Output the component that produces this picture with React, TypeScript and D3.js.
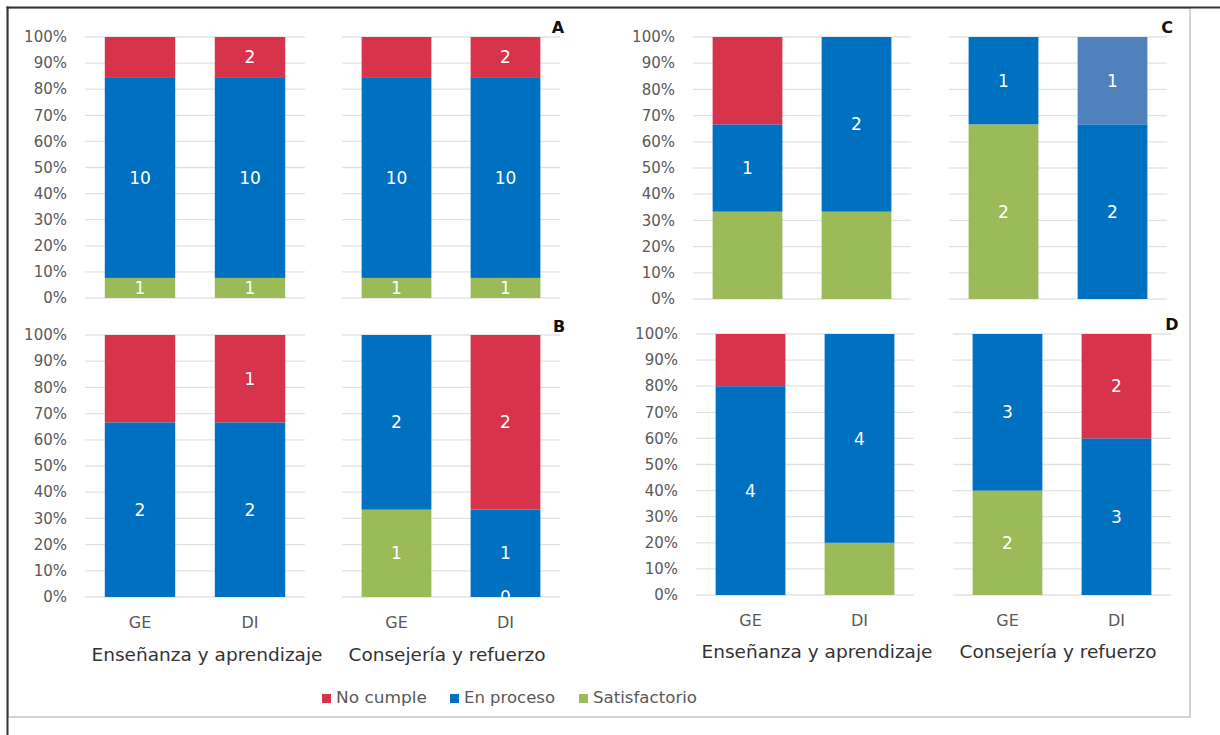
import * as d3 from "d3";
import React from "react";

// stack order, bottom to top
const seriesKeys = ["sat", "proc", "extra", "nc"];
const legendKeys = ["nc", "proc", "sat"];
const seriesNames: Record<string, string> = { nc: "No cumple", proc: "En proceso", sat: "Satisfactorio" };
const colors: Record<string, string> = { nc: "#d7344b", proc: "#0070c0", extra: "#4f81bd", sat: "#9bbb59" };

const barLabels = ["GE", "DI"];
const groupLabels = ["Enseñanza y aprendizaje", "Consejería y refuerzo"];

// values per bar: [Enseñanza GE, Enseñanza DI, Consejería GE, Consejería DI]
const satA = [1, 1, 1, 1];
const procA = [10, 10, 10, 10];
const extraA = [0, 0, 0, 0];
const ncA = [2, 2, 2, 2];

const satB = [0, 0, 1, 0];
const procB = [2, 2, 2, 1];
const extraB = [0, 0, 0, 0];
const ncB = [1, 1, 0, 2];

const satC = [1, 1, 2, 0];
const procC = [1, 2, 1, 2];
const extraC = [0, 0, 0, 1];
const ncC = [1, 0, 0, 0];

const satD = [0, 1, 2, 0];
const procD = [4, 4, 3, 3];
const extraD = [0, 0, 0, 0];
const ncD = [1, 0, 0, 2];

// labels Excel left off, and a zero label it kept
const hiddenLabels = ["A-nc-0", "A-nc-2", "B-nc-0", "C-sat-0", "C-nc-0", "C-sat-1", "D-nc-0", "D-sat-1"];
const zeroLabels = ["B-sat-3"];

const panels = [
  { id: "A", values: { sat: satA, proc: procA, extra: extraA, nc: ncA }, top: 37, bottom: 298, groupsX: [[85, 305], [342, 560]], letter: [558, 33], axis: false },
  { id: "B", values: { sat: satB, proc: procB, extra: extraB, nc: ncB }, top: 335, bottom: 597, groupsX: [[85, 305], [342, 560]], letter: [559, 332], axis: true, axisY: [628, 661] },
  { id: "C", values: { sat: satC, proc: procC, extra: extraC, nc: ncC }, top: 37, bottom: 299, groupsX: [[693, 911], [949, 1167]], letter: [1167, 33], axis: false },
  { id: "D", values: { sat: satD, proc: procD, extra: extraD, nc: ncD }, top: 334, bottom: 595, groupsX: [[696, 914], [953, 1171]], letter: [1172, 330], axis: true, axisY: [626, 658] },
]

const groupLabelShift = [12, -4]
const groupLabelWidth = [231, 197]

const font = "'DejaVu Sans', sans-serif"

const Panel = ({ p }: { p: typeof panels[number] }) => {
  const y = d3.scaleLinear([0, 1], [p.bottom, p.top])
  const rows = d3.range(4).map(i => {
    const r: Record<string, number> = {}
    seriesKeys.forEach(k => { r[k] = (p.values as any)[k][i] })
    return r
  })
  const stacked = d3.stack<Record<string, number>>().keys(seriesKeys).offset(d3.stackOffsetExpand)(rows)
  const fmt = d3.format(".0%")

  return (
    <g>
      {y.ticks(10).map(t => (
        <text key={t} x={p.groupsX[0][0] - 18} y={y(t)} dy="0.35em" textAnchor="end" fontSize={15} fill="#595959" fontFamily={font}>{fmt(t)}</text>
      ))}
      {p.groupsX.map((gx, g) => {
        const x = d3.scaleBand(barLabels, gx).paddingInner(0.36).paddingOuter(0.18)
        return (
          <g key={g}>
            {y.ticks(10).map(t => (
              <line key={t} x1={gx[0]} x2={gx[1]} y1={y(t)} y2={y(t)} stroke="#e3e3e3" strokeWidth={1.3} />
            ))}
            {barLabels.map((b, j) => {
              const i = g * 2 + j
              return (
                <g key={b}>
                  {stacked.map(s => {
                    const d = s[i]
                    if (d[1] - d[0] <= 0) return null
                    return <rect key={s.key} x={x(b)} width={x.bandwidth()} y={y(d[1])} height={y(d[0]) - y(d[1])} fill={colors[s.key]} />
                  })}
                  {stacked.map(s => {
                    const d = s[i]
                    const tag = `${p.id}-${s.key}-${i}`
                    const v = rows[i][s.key]
                    if (hiddenLabels.includes(tag)) return null
                    if (v === 0 && !zeroLabels.includes(tag)) return null
                    return (
                      <text key={s.key} x={x(b)! + x.bandwidth() / 2} y={y((d[0] + d[1]) / 2)} dy="0.36em" textAnchor="middle" fontSize={17} fill="#fff" fontFamily={font}>{v}</text>
                    )
                  })}
                  {p.axis && (
                    <text x={x(b)! + x.bandwidth() / 2} y={p.axisY![0]} textAnchor="middle" fontSize={16} fill="#595959" fontFamily={font}>{b}</text>
                  )}
                </g>
              )
            })}
            {p.axis && (
              <text x={(gx[0] + gx[1]) / 2 + groupLabelShift[g]} y={p.axisY![1]} textAnchor="middle" fontSize={17} fill="#333" fontFamily={font}
                textLength={groupLabelWidth[g]} lengthAdjust="spacingAndGlyphs">{groupLabels[g]}</text>
            )}
          </g>
        )
      })}
      <text x={p.letter[0]} y={p.letter[1]} textAnchor="middle" fontSize={16} fontWeight="bold" fill="#111" fontFamily={font}>{p.id}</text>
    </g>
  )
}

const legendX = [322, 450, 579]
const legendWidth = [91, 91, 104]

export default function App() {
  return (
    <svg width={1220} height={735} style={{ position: "absolute", left: 0, top: 0, background: "#fff" }}>
      <rect x={8} y={8} width={1182} height={709} fill="none" stroke="#c4c4c4" strokeWidth={1.5} />
      <line x1={7.5} x2={7.5} y1={6.5} y2={735} stroke="#333" strokeWidth={2} />
      <line x1={6.5} x2={1220} y1={7.5} y2={7.5} stroke="#333" strokeWidth={2} />
      {panels.map(p => <Panel key={p.id} p={p} />)}
      {legendKeys.map((k, i) => (
        <g key={k}>
          <rect x={legendX[i]} y={694} width={9} height={9} fill={colors[k]} />
          <text x={legendX[i] + 14} y={703} fontSize={15} fill="#595959" fontFamily={font}
            textLength={legendWidth[i]} lengthAdjust="spacingAndGlyphs">{seriesNames[k]}</text>
        </g>
      ))}
    </svg>
  )
}
